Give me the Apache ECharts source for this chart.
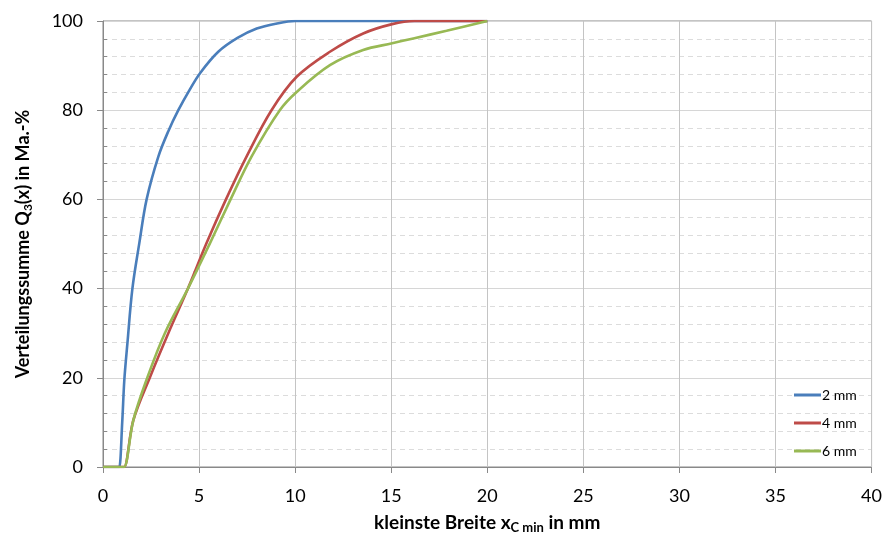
<!DOCTYPE html>
<html>
<head>
<meta charset="utf-8">
<script src="https://cdn.jsdelivr.net/npm/echarts@6/dist/echarts.min.js"></script>
<style>html,body{margin:0;padding:0;background:#fff;}#c{width:885px;height:541px;}</style>
</head>
<body>
<div id="c"></div>
<script>
const seriesNames = ['2 mm', '4 mm', '6 mm'];
const x2 = [0, 0.8, 0.85, 1.0, 1.11, 1.27, 1.53, 1.89, 2.27, 2.88, 3.4, 3.92, 4.5, 5.05, 6.0, 7.0, 8.0, 9.0, 10.0, 10.5, 20];
const y2 = [0, 0, 0, 10, 19.5, 27.7, 40, 50.2, 60, 69.6, 75.3, 80, 84.5, 88.3, 93.1, 96.2, 98.3, 99.4, 100, 100, 100];
const x4 = [0, 1.05, 1.1, 1.58, 2.45, 3.4, 4.42, 5.39, 6.4, 7.47, 8.77, 10.08, 11.81, 13.54, 15.05, 16.2, 16.8, 20];
const y4 = [0, 0, 0, 10.5, 20.2, 30, 40, 50.2, 60, 69.6, 80, 87.5, 93.1, 97.2, 99.3, 100, 100, 100];
const x6 = [0, 1.05, 1.1, 1.58, 2.32, 3.22, 4.42, 5.57, 6.64, 7.73, 9.2, 10.08, 11.81, 13.54, 15.05, 16.15, 17.88, 20];
const y6 = [0, 0, 0, 10.5, 20.2, 30, 40, 50.2, 60, 69.6, 80, 84.1, 90.1, 93.5, 95, 96.1, 97.8, 100];
const xTicks = [0, 5, 10, 15, 20, 25, 30, 35, 40];
const yTicks = [0, 20, 40, 60, 80, 100];
const colors = ['#4A7EBB', '#BE4B48', '#98B954'];

const zip = (xs, ys) => xs.map((v, i) => [v, ys[i]]);
const FONT = 'Lato';
const chart = echarts.init(document.getElementById('c'));
chart.setOption({
  animation: false,
  textStyle: { fontFamily: FONT },
  grid: { left: 103, right: 13, top: 21, bottom: 74, show: true, borderColor: '#898989', borderWidth: 1, backgroundColor: 'transparent' },
  legend: {
    data: seriesNames, orient: 'vertical', left: 789, top: 383,
    icon: 'rect', itemWidth: 27, itemHeight: 3, itemGap: 14,
    textStyle: { fontFamily: FONT, fontSize: 14, color: '#000', padding: [0, 0, 0, -4] }
  },
  xAxis: {
    type: 'value', min: xTicks[0], max: xTicks[xTicks.length - 1], interval: 5,
    name: 'kleinste Breite x{sub|C min} in mm', nameLocation: 'middle', nameGap: 45,
    nameTextStyle: { fontFamily: FONT, fontWeight: 'bold', fontSize: 19, color: '#000', lineHeight: 22,
      rich: { sub: { fontFamily: FONT, fontWeight: 'bold', fontSize: 13, lineHeight: 13, verticalAlign: 'bottom', color: '#000' } } },
    axisLine: { show: true, onZero: false, lineStyle: { color: '#898989', width: 1 } },
    axisTick: { show: true, length: 6, lineStyle: { color: '#898989' } },
    axisLabel: { fontFamily: FONT, fontSize: 18, color: '#000', margin: 20 },
    splitLine: { show: true, lineStyle: { color: '#c4c4c4', width: 1 } }
  },
  yAxis: [{
    type: 'value', min: yTicks[0], max: yTicks[yTicks.length - 1], interval: 20,
    name: 'Verteilungssumme Q{sub|3}(x) in Ma.-%', nameLocation: 'middle', nameGap: 69,
    nameTextStyle: { fontFamily: FONT, fontWeight: 'bold', fontSize: 18, color: '#000', lineHeight: 22,
      rich: { sub: { fontFamily: FONT, fontWeight: 'bold', fontSize: 12, lineHeight: 12, verticalAlign: 'bottom', color: '#000' } } },
    axisLine: { show: true, lineStyle: { color: '#898989', width: 1 } },
    axisTick: { show: true, length: 6, lineStyle: { color: '#898989' } },
    axisLabel: { fontFamily: FONT, fontSize: 18, color: '#000', margin: 20 },
    splitLine: { show: true, lineStyle: { color: '#d6d6d6', width: 1 } },
    minorSplitLine: { show: true, lineStyle: { color: '#dcdcdc', width: 1, type: [5, 4] } },
    minorTick: { show: false, splitNumber: 5 }
  }, {
    type: 'value', min: yTicks[0], max: yTicks[yTicks.length - 1], interval: 20, position: 'left',
    axisLine: { show: false }, axisLabel: { show: false }, splitLine: { show: false },
    axisTick: { show: false, inside: true },
    minorTick: { show: true, splitNumber: 5, length: 4, lineStyle: { color: '#898989' } }
  }],
  series: [
    { name: seriesNames[0], type: 'line', data: zip(x2, y2) },
    { name: seriesNames[1], type: 'line', data: zip(x4, y4) },
    { name: seriesNames[2], type: 'line', data: zip(x6, y6) }
  ].map((s, i) => Object.assign(s, {
    showSymbol: false, symbol: 'none', smooth: 0.35, color: colors[i],
    lineStyle: { color: colors[i], width: 2.6 }, z: 3 + i
  }))
});
</script>
</body>
</html>
